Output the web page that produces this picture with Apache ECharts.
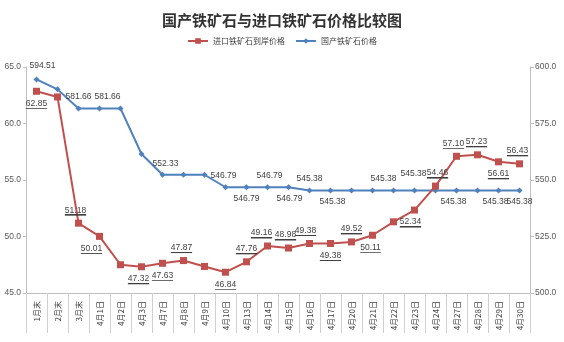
<!DOCTYPE html>
<html><head><meta charset="utf-8">
<script src="https://cdn.jsdelivr.net/npm/echarts@6/dist/echarts.min.js"></script>
<style>html,body{margin:0;padding:0;background:#fff}#c{width:564px;height:342px}</style>
</head><body><div id="c"></div>
<script>
const categories = ['1月末','2月末','3月末','4月1日','4月2日','4月3日','4月7日','4月8日','4月9日','4月10日','4月13日','4月14日','4月15日','4月16日','4月17日','4月20日','4月21日','4月22日','4月23日','4月24日','4月27日','4月28日','4月29日','4月30日'];
const importedPrice = [62.85,62.35,51.18,50.01,47.5,47.32,47.63,47.87,47.35,46.84,47.76,49.16,48.98,49.38,49.38,49.52,50.11,51.3,52.34,54.46,57.10,57.23,56.61,56.43];
const domesticPrice = [594.51,590.1,581.66,581.66,581.66,561.5,552.33,552.33,552.33,546.79,546.79,546.79,546.79,545.38,545.38,545.38,545.38,545.38,545.38,545.38,545.38,545.38,545.38,545.38];
const leftTicks = {min:45, max:65, interval:5};
const rightTicks = {min:500, max:600, interval:25};

// label placement (style only): [position, dx, dy] or null
const redLabelPos = [['bottom',0,0],null,['top',-3,0],['bottom',-8,0],null,['bottom',-3,0],['bottom',0,0],['top',-2,0],null,['bottom',0,0],['top',0,0],['top',-6,0],['top',-3,0],['top',-4,0],['bottom',0,0],['top',0,0],['bottom',-2,0],null,['bottom',-4,0],['top',2,0],['top',-3,0],['top',-1,0],['bottom',0,0],['top',-2,0]];
const blueLabelPos = [['top',6,-2],null,['top',0,0],['top',8,0],null,null,['top',3,0],null,null,['top',-2,0],['bottom',0,0],['top',2,0],['bottom',1,0],['top',0,0],['bottom',2,0],null,null,['top',-10,0],['top',-1,-5],null,['bottom',-3,0],null,['bottom',-3,0],['bottom',0,0]];

const underline = {type:'linear',x:0,y:0,x2:0,y2:1,colorStops:[{offset:0,color:'rgba(0,0,0,0)'},{offset:0.88,color:'rgba(0,0,0,0)'},{offset:0.88,color:'#404040'},{offset:1,color:'#404040'}]};

function mk(vals, pos, ul){
  return vals.map((v,i)=>{
    const p = pos[i];
    if(!p) return {value:v, label:{show:false}};
    return {value:v, label:{show:true, position:p[0], offset:[p[1],p[2]],
      formatter: ul ? '{u|'+v.toFixed(2)+'}' : v.toFixed(2),
      rich: ul ? {u:{fontSize:8.5,color:'#404040',fontFamily:'Liberation Sans',backgroundColor:underline,padding:[0,0,1,0]}} : undefined}};
  });
}

const chart = echarts.init(document.getElementById('c'));
const axisLab = {color:'#595959', fontSize:8.5, fontFamily:'Liberation Sans'};
chart.setOption({
  animation:false,
  title:{text:'国产铁矿石与进口铁矿石价格比较图', left:'center', top:8,
    textStyle:{fontSize:15, fontWeight:'bold', color:'#333', fontFamily:'Noto Sans CJK SC'}},
  legend:{top:32, left:'center', itemGap:10, itemWidth:20, itemHeight:7,
    data:['进口铁矿石到岸价格','国产铁矿石价格'],
    textStyle:{fontSize:8, color:'#404040', fontFamily:'Noto Sans CJK SC'}},
  grid:{left:26, right:34, top:67, bottom:49, containLabel:false},
  xAxis:{type:'category', data:categories, boundaryGap:true,
    axisLine:{lineStyle:{color:'#bfbfbf'}},
    axisTick:{show:true, length:40, alignWithLabel:false, lineStyle:{color:'#d0d0d0'}},
    axisLabel:{rotate:90, fontSize:8, color:'#404040', margin:8, interval:0, fontFamily:'Noto Sans CJK SC'}},
  yAxis:[
    {type:'value', min:leftTicks.min, max:leftTicks.max, interval:leftTicks.interval, position:'left',
      splitLine:{show:false}, axisLine:{show:true, lineStyle:{color:'#bfbfbf'}},
      axisTick:{show:true, length:3, lineStyle:{color:'#bfbfbf'}},
      axisLabel:Object.assign({formatter:v=>v.toFixed(1), margin:5}, axisLab)},
    {type:'value', min:rightTicks.min, max:rightTicks.max, interval:rightTicks.interval, position:'right',
      splitLine:{show:false}, axisLine:{show:true, lineStyle:{color:'#bfbfbf'}},
      axisTick:{show:true, length:4, lineStyle:{color:'#bfbfbf'}},
      axisLabel:Object.assign({formatter:v=>v.toFixed(1), margin:5}, axisLab)}
  ],
  series:[
    {name:'国产铁矿石价格', type:'line', yAxisIndex:1, data:mk(domesticPrice, blueLabelPos, false),
      symbol:'diamond', symbolSize:6, lineStyle:{color:'#4F81BD', width:2}, itemStyle:{color:'#4F81BD'},
      label:{fontSize:8.5, color:'#404040', fontFamily:'Liberation Sans', distance:4}, z:2},
    {name:'进口铁矿石到岸价格', type:'line', yAxisIndex:0, data:mk(importedPrice, redLabelPos, true),
      symbol:'rect', symbolSize:7, lineStyle:{color:'#C0504D', width:2}, itemStyle:{color:'#C0504D'},
      label:{fontSize:8.5, color:'#404040', fontFamily:'Liberation Sans', distance:4}, z:3}
  ]
});
</script></body></html>
